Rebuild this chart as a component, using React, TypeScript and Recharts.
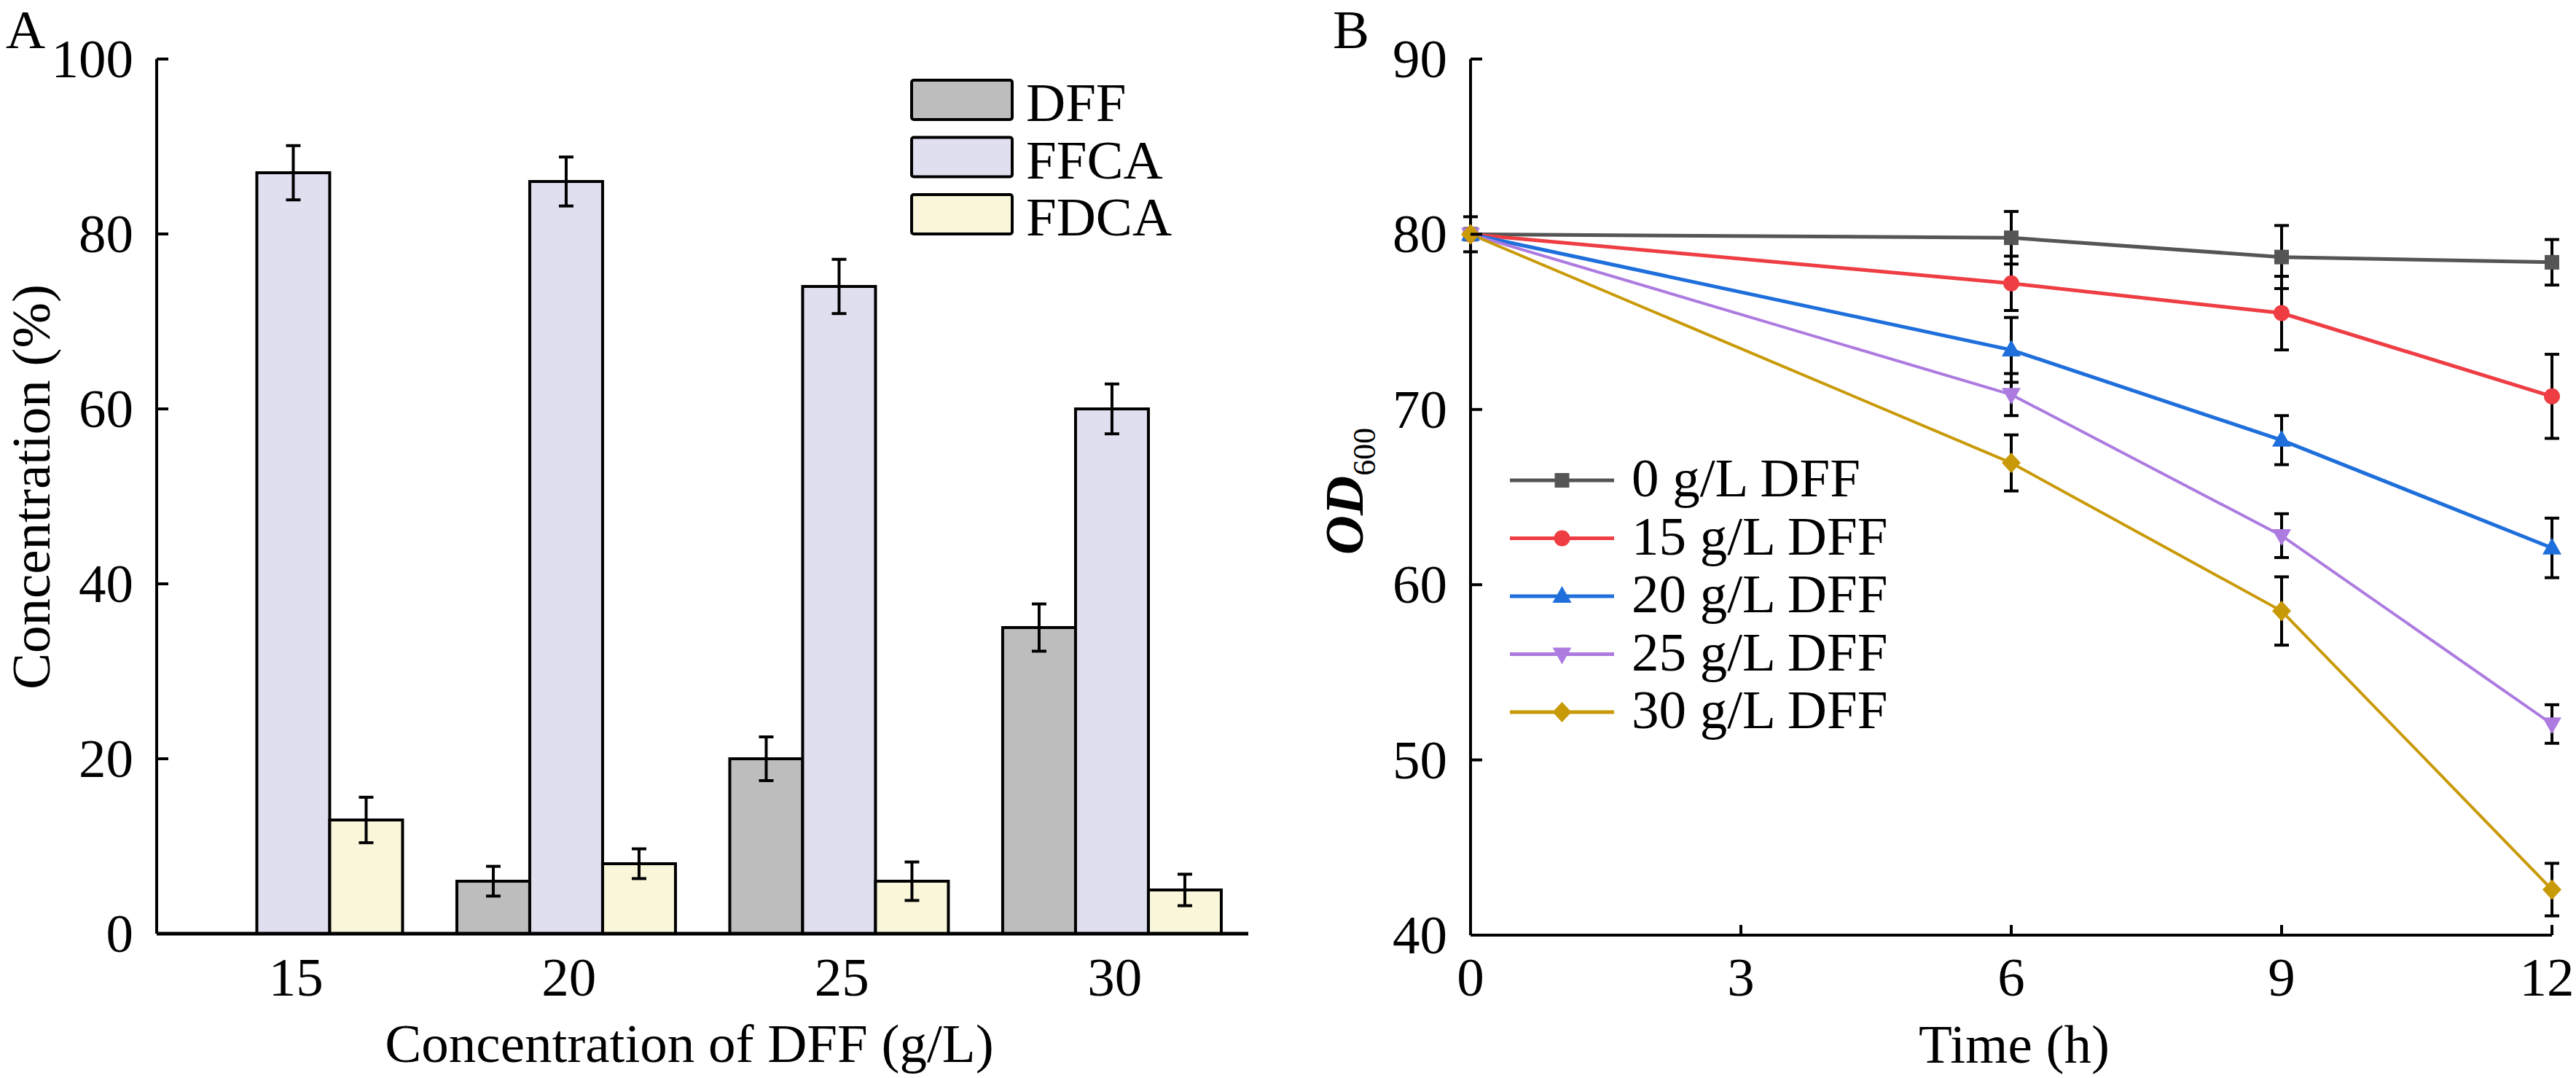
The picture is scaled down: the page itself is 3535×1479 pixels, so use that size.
import React from "react";
import {
  BarChart,
  Bar,
  LineChart,
  Line,
  XAxis,
  YAxis,
  ErrorBar,
  Legend,
} from "recharts";

const FONT = '"Liberation Serif", "Times New Roman", serif';
const FS = 75;

// ---- panel A data ----
const concentrations = ["15", "20", "25", "30"];
const dffValues = [null, 6, 20, 35];
const dffErrors = [null, 1.7, 2.5, 2.7];
const ffcaValues = [87, 86, 74, 60];
const ffcaErrors = [3.1, 2.8, 3.1, 2.85];
const fdcaValues = [13, 8, 6, 5];
const fdcaErrors = [2.6, 1.7, 2.2, 1.8];
const barTicks = [0, 20, 40, 60, 80, 100];

const barKeys = ["dff", "ffca", "fdca"];
const barNames = ["DFF", "FFCA", "FDCA"];
const barColors = ["#BDBDBD", "#DFDFF0", "#FAF6DA"];

// ---- panel B data ----
const times = [0, 6, 9, 12];
const od0 = [80, 79.8, 78.7, 78.4];
const od0Err = [1.0, 1.5, 1.8, 1.3];
const od15 = [80, 77.2, 75.5, 70.75];
const od15Err = [0, 1.55, 2.1, 2.4];
const od20 = [80, 73.4, 68.25, 62.1];
const od20Err = [0, 1.85, 1.4, 1.7];
const od25 = [80, 70.85, 62.8, 52.05];
const od25Err = [0, 1.2, 1.25, 1.1];
const od30 = [80, 66.95, 58.5, 42.6];
const od30Err = [0, 1.6, 1.95, 1.5];
const timeTicks = [0, 3, 6, 9, 12];
const odTicks = [40, 50, 60, 70, 80, 90];

const seriesNames = ["0 g/L DFF", "15 g/L DFF", "20 g/L DFF", "25 g/L DFF", "30 g/L DFF"];
const seriesColors = ["#555555", "#EE3D43", "#1E6FDB", "#AD7BE0", "#C99A08"];
const seriesMarkers = ["square", "circle", "triangle", "triangleDown", "diamond"];
const seriesWidths = [5, 5, 5, 4, 4];

const barData = concentrations.map((c, i) => ({
  conc: c,
  dff: dffValues[i],
  dffErr: dffErrors[i],
  ffca: ffcaValues[i],
  ffcaErr: ffcaErrors[i],
  fdca: fdcaValues[i],
  fdcaErr: fdcaErrors[i],
}));

const odSeries = [od0, od15, od20, od25, od30];
const odErrors = [od0Err, od15Err, od20Err, od25Err, od30Err];
const lineData = times.map((t, i) => {
  const row: any = { time: t };
  odSeries.forEach((s, k) => {
    row["s" + k] = s[i];
    row["e" + k] = odErrors[k][i];
  });
  return row;
});

function marker(shape: string, color: string, cx: number, cy: number, key?: any) {
  switch (shape) {
    case "square":
      return <rect key={key} x={cx - 10} y={cy - 10} width={20} height={20} fill={color} />;
    case "circle":
      return <circle key={key} cx={cx} cy={cy} r={11} fill={color} />;
    case "triangle":
      return (
        <path key={key} d={`M${cx},${cy - 14} L${cx + 13},${cy + 9} L${cx - 13},${cy + 9} Z`} fill={color} />
      );
    case "triangleDown":
      return (
        <path key={key} d={`M${cx},${cy + 14} L${cx + 13},${cy - 9} L${cx - 13},${cy - 9} Z`} fill={color} />
      );
    default:
      return (
        <path
          key={key}
          d={`M${cx},${cy - 14} L${cx + 13},${cy} L${cx},${cy + 14} L${cx - 13},${cy} Z`}
          fill={color}
        />
      );
  }
}

// chart A box
const A_W = 1760;
const A_H = 1479;
// chart B box
const B_LEFT = 1760;
const B_W = 1775;
const B_H = 1479;

const LeftTick = (props: any) => {
  const { x, y, payload } = props;
  return (
    <g>
      <line x1={x} x2={x + 16} y1={y} y2={y} stroke="#000" strokeWidth={4} />
      <text x={x - 32} y={y + 25} textAnchor="end" fontSize={FS} fontFamily={FONT} fill="#000">
        {payload.value}
      </text>
    </g>
  );
};

const CategoryTick = (props: any) => {
  const { x, y, payload } = props;
  return (
    <text x={x + 4} y={y + 85} textAnchor="middle" fontSize={FS} fontFamily={FONT} fill="#000">
      {payload.value}
    </text>
  );
};

const TimeTick = (props: any) => {
  const { x, y, payload } = props;
  // keep the last label ("12") inside the picture edge
  const tx = Math.min(x, B_W - 40);
  return (
    <g>
      <line x1={x} x2={x} y1={y} y2={y - 14} stroke="#000" strokeWidth={4} />
      <text x={tx} y={y + 83} textAnchor="middle" fontSize={FS} fontFamily={FONT} fill="#000">
        {payload.value}
      </text>
    </g>
  );
};

const BarLegend = () => (
  <svg width={A_W} height={A_H} style={{ display: "block" }}>
    {barNames.map((name, i) => {
      const top = 110 + i * 78.5;
      return (
        <g key={name}>
          <rect
            x={1251}
            y={top}
            width={138}
            height={54}
            rx={3}
            fill={barColors[i]}
            stroke="#000"
            strokeWidth={4}
          />
          <text x={1408} y={top + 56} fontSize={FS} fontFamily={FONT} fill="#000">
            {name}
          </text>
        </g>
      );
    })}
  </svg>
);

const LineLegend = () => (
  <svg width={B_W} height={B_H} style={{ display: "block" }}>
    {seriesNames.map((name, i) => {
      const y = 659 + i * 79.5;
      const x0 = 2072 - B_LEFT;
      const x1 = 2215 - B_LEFT;
      return (
        <g key={name}>
          <line x1={x0} x2={x1} y1={y} y2={y} stroke={seriesColors[i]} strokeWidth={5} />
          {marker(seriesMarkers[i], seriesColors[i], (x0 + x1) / 2, y)}
          <text x={2239 - B_LEFT} y={y + 22} fontSize={FS} fontFamily={FONT} fill="#000">
            {name}
          </text>
        </g>
      );
    })}
  </svg>
);

export default function App() {
  return (
    <div
      style={{
        position: "absolute",
        left: 0,
        top: 0,
        width: 3535,
        height: 1479,
        background: "#fff",
        overflow: "hidden",
      }}
    >
      {/* text overlay: panel letters and axis titles */}
      <svg
        width={3535}
        height={1479}
        style={{ position: "absolute", left: 0, top: 0 }}
        fontFamily={FONT}
      >
        <text x={8} y={66} fontSize={FS} fill="#000">A</text>
        <text x={1829} y={66} fontSize={FS} fill="#000">B</text>
        <text x={946} y={1457} fontSize={FS} textAnchor="middle" fill="#000">
          Concentration of DFF (g/L)
        </text>
        <text
          x={68}
          y={668}
          fontSize={FS}
          textAnchor="middle"
          fill="#000"
          transform="rotate(-90, 68, 668)"
        >
          Concentration (%)
        </text>
        <text x={2764} y={1458} fontSize={FS} textAnchor="middle" fill="#000">
          Time (h)
        </text>
        <text
          x={1870}
          y={674}
          textAnchor="middle"
          fill="#000"
          transform="rotate(-90, 1870, 674)"
        >
          <tspan fontSize={FS} fontStyle="italic" fontWeight="bold">OD</tspan>
          <tspan fontSize={44} dy={17}>600</tspan>
        </text>
      </svg>

      <div style={{ position: "absolute", left: 0, top: 0 }}>
        <BarChart
          width={A_W}
          height={A_H}
          data={barData}
          margin={{ top: 81, right: 47, bottom: 197, left: 214 }}
          barCategoryGap="10%"
          barGap={0}
        >
          <XAxis
            dataKey="conc"
            height={1}
            tickLine={false}
            tickSize={0}
            tickMargin={0}
            tick={CategoryTick}
            axisLine={{ stroke: "#000", strokeWidth: 5 }}
          />
          <YAxis
            width={1}
            domain={[0, 100]}
            ticks={barTicks}
            tickLine={false}
            tickSize={0}
            tickMargin={0}
            tick={LeftTick}
            axisLine={{ stroke: "#000", strokeWidth: 4 }}
          />
          <Legend
            layout="horizontal"
            verticalAlign="middle"
            align="center"
            content={BarLegend}
            wrapperStyle={{ left: 0, top: 0, width: A_W, height: A_H }}
          />
          {barKeys.map((key, i) => (
            <Bar
              key={key}
              dataKey={key}
              name={barNames[i]}
              fill={barColors[i]}
              stroke="#000"
              strokeWidth={4}
              isAnimationActive={false}
            >
              <ErrorBar dataKey={key + "Err"} width={10} strokeWidth={4} stroke="#000" direction="y" />
            </Bar>
          ))}
        </BarChart>
      </div>

      <div style={{ position: "absolute", left: B_LEFT, top: 0 }}>
        <LineChart
          width={B_W}
          height={B_H}
          data={lineData}
          margin={{ top: 81, right: 33, bottom: 195, left: 257 }}
        >
          <XAxis
            dataKey="time"
            type="number"
            domain={[0, 12]}
            ticks={timeTicks}
            height={1}
            tickLine={false}
            tickSize={0}
            tickMargin={0}
            tick={TimeTick}
            axisLine={{ stroke: "#000", strokeWidth: 4 }}
          />
          <YAxis
            width={1}
            domain={[40, 90]}
            ticks={odTicks}
            tickLine={false}
            tickSize={0}
            tickMargin={0}
            tick={LeftTick}
            axisLine={{ stroke: "#000", strokeWidth: 4 }}
          />
          <Legend
            layout="horizontal"
            verticalAlign="middle"
            align="center"
            content={LineLegend}
            wrapperStyle={{ left: 0, top: 0, width: B_W, height: B_H }}
          />
          {seriesNames.map((name, k) => (
            <Line
              key={name}
              type="linear"
              dataKey={"s" + k}
              name={name}
              stroke={seriesColors[k]}
              strokeWidth={seriesWidths[k]}
              isAnimationActive={false}
              dot={(p: any) => marker(seriesMarkers[k], seriesColors[k], p.cx, p.cy, p.index)}
              activeDot={false}
            >
              <ErrorBar dataKey={"e" + k} width={10} strokeWidth={4} stroke="#000" direction="y" />
            </Line>
          ))}
        </LineChart>
      </div>
    </div>
  );
}
